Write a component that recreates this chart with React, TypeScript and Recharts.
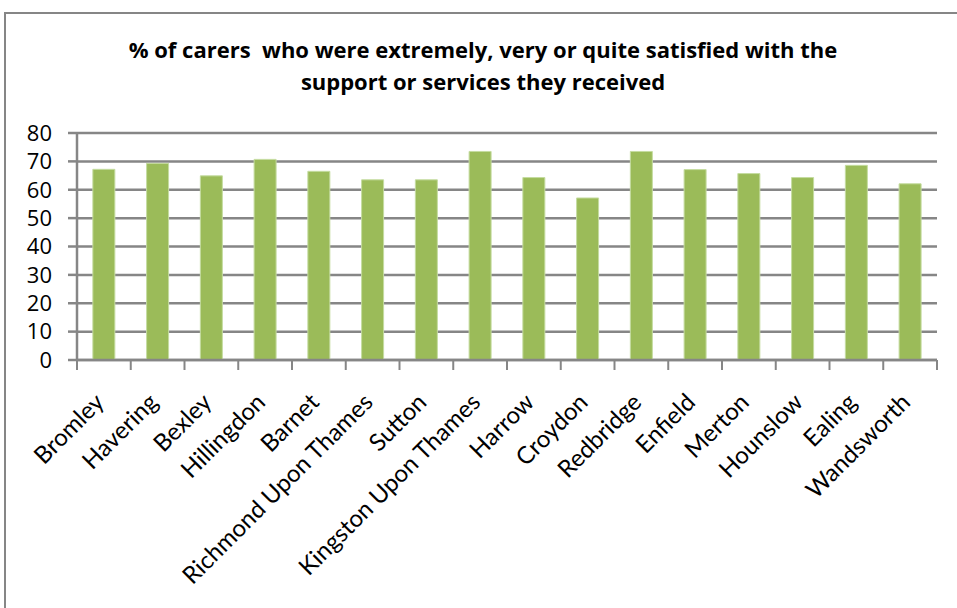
import React from 'react';
import { BarChart, Bar, XAxis, YAxis, CartesianGrid } from 'recharts';

const boroughs = [
  'Bromley', 'Havering', 'Bexley', 'Hillingdon', 'Barnet', 'Richmond Upon Thames',
  'Sutton', 'Kingston Upon Thames', 'Harrow', 'Croydon', 'Redbridge', 'Enfield',
  'Merton', 'Hounslow', 'Ealing', 'Wandsworth',
];
const satisfied = [67.2, 69.3, 64.9, 70.7, 66.5, 63.5, 63.5, 73.5, 64.3, 57.1, 73.5, 67.1, 65.7, 64.3, 68.6, 62.1];
const yTicks = [0, 10, 20, 30, 40, 50, 60, 70, 80];
const titleLines = [
  '% of carers  who were extremely, very or quite satisfied with the',
  'support or services they received',
];

const data = boroughs.map((name, i) => ({ name, value: satisfied[i] }));

const GREY = '#868686';
const FONT = 'Lato, "Liberation Sans", sans-serif';
const TITLE_FONT = '"Open Sans", Lato, sans-serif';

const XTick = (props: any) => {
  const { x, y, payload, index, visibleTicksCount } = props;
  const off = payload.offset || 0;
  const axisY = y - 2;
  const tx = x - 5;
  const ty = axisY + 37;
  return (
    <g>
      <line x1={x - off} x2={x - off} y1={axisY} y2={axisY + 10} stroke={GREY} strokeWidth={2} />
      {index === visibleTicksCount - 1 && (
        <line x1={x + off} x2={x + off} y1={axisY} y2={axisY + 10} stroke={GREY} strokeWidth={2} />
      )}
      <text
        x={tx}
        y={ty}
        transform={`rotate(-45, ${tx}, ${ty})`}
        textAnchor="end"
        dominantBaseline="central"
        fontFamily={FONT}
        fontSize={24}
        fill="#000"
      >
        {payload.value}
      </text>
    </g>
  );
};

export default function App() {
  return (
    <div style={{ position: 'fixed', left: 0, top: 0, width: 957, height: 608, overflow: 'hidden', background: '#fff' }}>
      <div
        style={{
          position: 'absolute', left: 4, top: 12, width: 980, height: 640,
          border: `2px solid ${GREY}`, boxSizing: 'border-box',
        }}
      />
      <div
        style={{
          position: 'absolute', left: 0, top: 33, width: 966, textAlign: 'center',
          fontFamily: TITLE_FONT, fontWeight: 'bold', fontSize: 22, lineHeight: '32px', color: '#000',
        }}
      >
        {titleLines.map((t) => (
          <div key={t} style={{ whiteSpace: 'pre' }}>{t}</div>
        ))}
      </div>
      <div style={{ position: 'absolute', left: 0, top: 0 }}>
        <BarChart
          width={957}
          height={608}
          data={data}
          margin={{ top: 133, right: 20, bottom: 0, left: 0 }}
          barCategoryGap="29.5%"
        >
          <CartesianGrid vertical={false} stroke={GREY} strokeWidth={2.5} />
          <XAxis
            dataKey="name"
            interval={0}
            height={248}
            axisLine={{ stroke: GREY, strokeWidth: 2.5 }}
            tickLine={false}
            tickSize={0}
            tickMargin={2}
            tick={<XTick />}
          />
          <YAxis
            domain={[0, 80]}
            ticks={yTicks}
            width={77}
            tickSize={9}
            tickMargin={16}
            axisLine={{ stroke: GREY, strokeWidth: 2.5 }}
            tickLine={{ stroke: GREY, strokeWidth: 2.5 }}
            tick={{ fill: '#000', fontSize: 22, fontFamily: TITLE_FONT }}
            interval={0}
          />
          <Bar dataKey="value" fill="#9bbb59" stroke="#c5dca0" strokeWidth={1} isAnimationActive={false} />
        </BarChart>
      </div>
    </div>
  );
}
